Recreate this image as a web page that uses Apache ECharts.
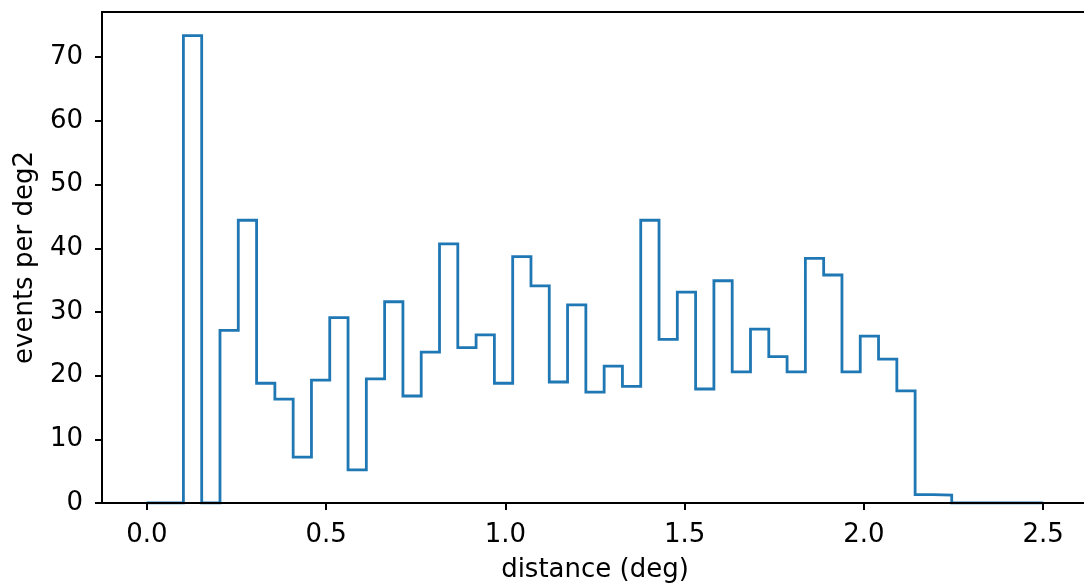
<!DOCTYPE html>
<html>
<head>
<meta charset="utf-8">
<title>events per deg2</title>
<script src="https://cdn.jsdelivr.net/npm/echarts@6/dist/echarts.min.js"></script>
<style>
  html, body { margin: 0; padding: 0; background: #fff; }
  #chart { width: 1084px; height: 586px; }
</style>
</head>
<body>
<div id="chart"></div>
<script>
// histogram counts per bin (events per deg2), 49 equal bins from 0 to 2.5 deg
const binStart = 0
const binEnd = 2.5
const counts = [
  0, 0, 73.4, 0, 27.1, 44.4, 18.8, 16.3, 7.2, 19.3,
  29.1, 5.2, 19.5, 31.6, 16.8, 23.7, 40.7, 24.4, 26.4, 18.8,
  38.7, 34.1, 19.0, 31.1, 17.4, 21.5, 18.3, 44.4, 25.7, 33.1,
  17.9, 34.9, 20.6, 27.3, 23.0, 20.6, 38.4, 35.8, 20.6, 26.2,
  22.6, 17.6, 1.3, 1.25, 0, 0, 0, 0, 0
]
const xTicks = [0, 0.5, 1.0, 1.5, 2.0, 2.5]
const yTicks = [0, 10, 20, 30, 40, 50, 60, 70]
const xRange = [-0.125, 2.625]
const yRange = [0, 77.1]

// step outline like histtype='step'
const binWidth = (binEnd - binStart) / counts.length
const stepPoints = [[binStart, 0]]
counts.forEach((c, i) => {
  const x0 = binStart + i * binWidth
  stepPoints.push([x0, c], [x0 + binWidth, c])
})
stepPoints.push([binEnd, 0])

const font = 'DejaVu Sans'
const fontSize = 26
const chart = echarts.init(document.getElementById('chart'))

chart.setOption({
  animation: false,
  grid: {
    left: 102,
    top: 12,
    width: 986,
    height: 491,
    show: true,
    borderColor: '#000',
    borderWidth: 2,
    backgroundColor: 'transparent',
    outerBoundsMode: 'none'
  },
  xAxis: {
    type: 'value',
    min: xRange[0],
    max: xRange[1],
    z: 5,
    name: 'distance (deg)',
    nameLocation: 'middle',
    nameGap: 54,
    nameTextStyle: { fontFamily: font, fontSize: fontSize, color: '#000' },
    axisLine: { onZero: false, lineStyle: { color: '#000', width: 2 } },
    axisTick: { customValues: xTicks, length: 7, lineStyle: { color: '#000', width: 2 } },
    axisLabel: {
      customValues: xTicks,
      margin: 19,
      fontFamily: font,
      fontSize: fontSize,
      color: '#000',
      formatter: (v) => v.toFixed(1)
    },
    splitLine: { show: false }
  },
  yAxis: {
    type: 'value',
    min: yRange[0],
    max: yRange[1],
    z: 5,
    name: 'events per deg2',
    nameLocation: 'middle',
    nameGap: 64,
    nameTextStyle: { fontFamily: font, fontSize: fontSize, color: '#000' },
    axisLine: { show: true, onZero: false, lineStyle: { color: '#000', width: 2 } },
    axisTick: { show: true, customValues: yTicks, length: 7, lineStyle: { color: '#000', width: 2 } },
    axisLabel: {
      customValues: yTicks,
      margin: 19,
      fontFamily: font,
      fontSize: fontSize,
      color: '#000'
    },
    splitLine: { show: false }
  },
  series: [
    {
      type: 'line',
      data: stepPoints,
      showSymbol: false,
      clip: true,
      lineStyle: { color: '#1f77b4', width: 2.8, join: 'miter' }
    }
  ]
})
</script>
</body>
</html>
